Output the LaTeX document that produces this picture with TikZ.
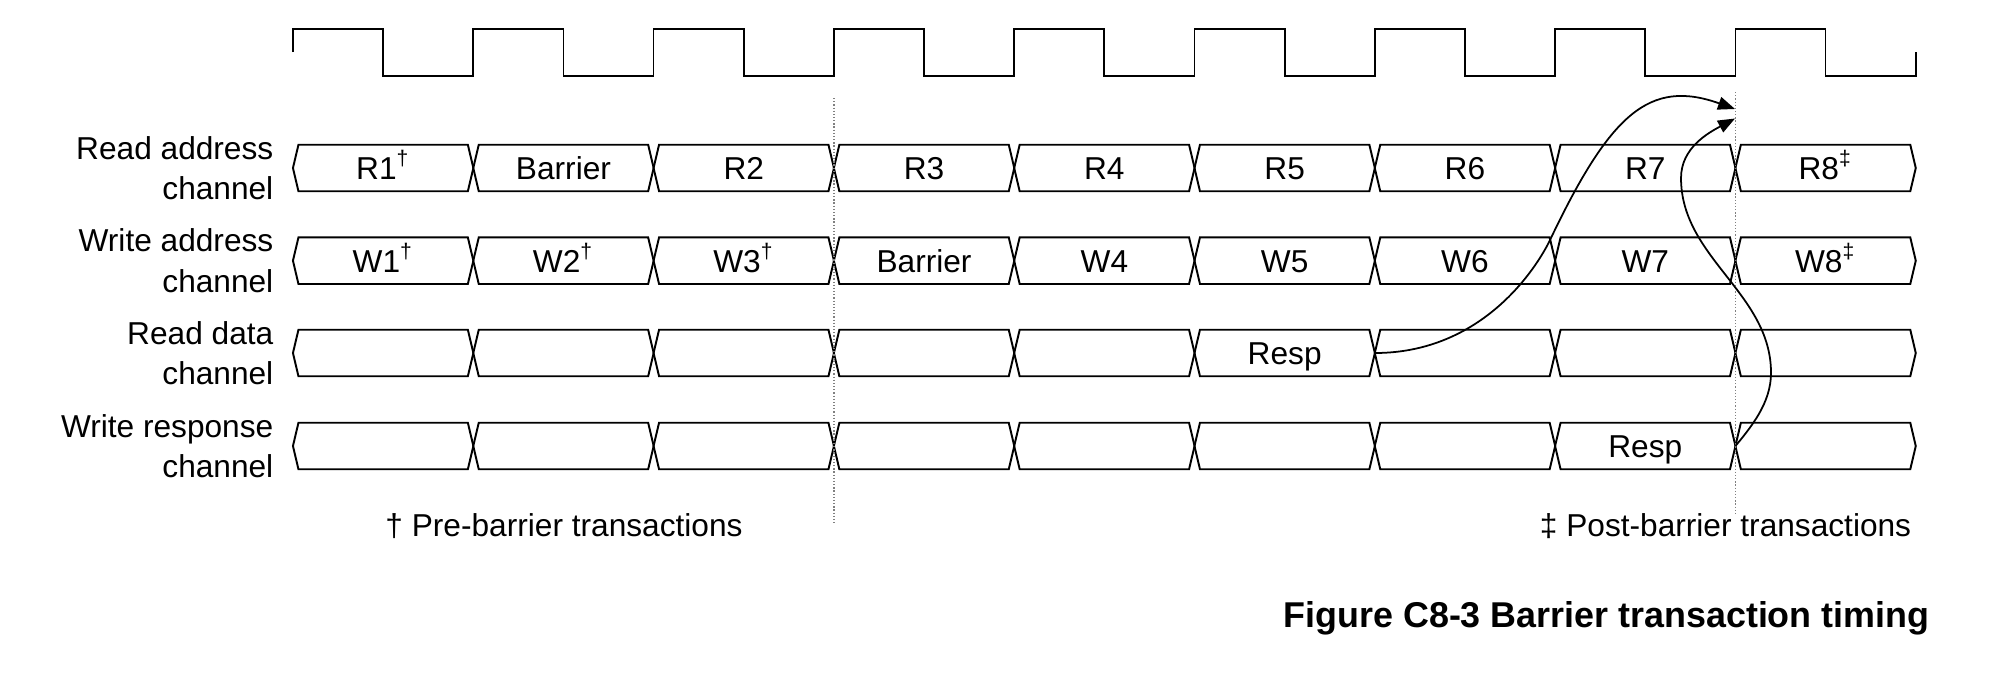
\documentclass[tikz,border=0pt]{standalone}
\usepackage{fontspec}
\setmainfont{Liberation Sans}
\usetikzlibrary{arrows.meta}

\begin{document}
\begin{tikzpicture}[x=0.01cm, y=-0.01cm]

    \tikzset{
      slot/.style={
        minimum width=1.803cm,
        minimum height=0.465cm,
        inner sep=0pt,
        outer sep=0pt,
        text height=6.45pt,
        text depth=0pt,
        font=\fontsize{9}{11}\selectfont,
      },
      bus/.style={line width=0.55pt, line join=miter},
      clk/.style={line width=0.5pt},
      chan/.style={anchor=east, align=right, inner sep=0pt, font=\fontsize{9}{11.4}\selectfont},
      note/.style={anchor=base, inner sep=0pt, font=\fontsize{9}{11}\selectfont},
      guide/.style={gray, line width=0.35pt, dash pattern=on 0.35pt off 0.55pt},
      flow/.style={line width=0.5pt, -{Triangle[length=0.17cm, width=0.13cm]}},
    }
    \useasboundingbox (0,0) rectangle (1998,678);

    \draw[clk] (293,52) -- (293,29)
      foreach \k in {1,...,8} { -- ++(90.15,0) -- ++(0,46.7) -- ++(90.15,0) -- ++(0,-46.7) }
      -- ++(90.15,0) -- ++(0,46.7) -- ++(90.15,0) -- ++(0,-23.7);

    \node[chan] (lra) at (274,168) {Read address\\channel};
    \node[chan] (lwa) at (274,260.7) {Write address\\channel};
    \node[chan] (lrd) at (274,353) {Read data\\channel};
    \node[chan] (lwr) at (274,446) {Write response\\channel};

    \foreach \txt [count=\i] in {R1\textsuperscript{†}, Barrier, R2, R3, R4, R5, R6, R7, R8\textsuperscript{‡}}
      \node[slot] (ra\i) at ({293+(\i-0.5)*180.3},168) {\txt};
    \foreach \txt [count=\i] in {W1\textsuperscript{†}, W2\textsuperscript{†}, W3\textsuperscript{†}, Barrier, W4, W5, W6, W7, W8\textsuperscript{‡}}
      \node[slot] (wa\i) at ({293+(\i-0.5)*180.3},260.7) {\txt};
    \foreach \txt [count=\i] in {{}, {}, {}, {}, {}, Resp, {}, {}, {}}
      \node[slot] (rd\i) at ({293+(\i-0.5)*180.3},353) {\txt};
    \foreach \txt [count=\i] in {{}, {}, {}, {}, {}, {}, {}, Resp, {}}
      \node[slot] (wr\i) at ({293+(\i-0.5)*180.3},446) {\txt};

    \foreach \rw in {ra,wa,rd,wr}
      \foreach \i in {1,...,9}
        \draw[bus] (\rw\i.west) -- ([xshift=0.055cm]\rw\i.north west) -- ([xshift=-0.055cm]\rw\i.north east)
          -- (\rw\i.east) -- ([xshift=-0.055cm]\rw\i.south east) -- ([xshift=0.055cm]\rw\i.south west) -- cycle;

    \coordinate (gtop1) at (833.9,98);
    \coordinate (gbot1) at (833.9,523);
    \coordinate (gtop2) at (1735.4,92);
    \coordinate (gbot2) at (1735.4,516);
    \draw[guide] (gtop1) -- (gbot1);
    \draw[guide] (gtop2) -- (gbot2);

    \coordinate (tipr) at (1735,109);
    \coordinate (tipw) at (1735,118.5);
    \draw[flow] (rd6.east) .. controls (1483,353) and (1537,267) .. (1550,240)
      .. controls (1610,114) and (1649.4,78.4) .. (tipr);
    \draw[flow] (wr8.east) .. controls (1751,427) and (1771,403) .. (1771,373)
      .. controls (1771,293) and (1681,258) .. (1681,178)
      .. controls (1681,148) and (1708,133) .. (tipw);

    \node[note] (pre) at (564,536.7) {† Pre-barrier transactions};
    \node[note] (post) at (1725.5,536.7) {‡ Post-barrier transactions};
    \node[note, font=\bfseries\fontsize{10.2}{12}\selectfont] (cap) at (1606.5,627.5) {Figure C8-3 Barrier transaction timing};

\end{tikzpicture}
\end{document}
